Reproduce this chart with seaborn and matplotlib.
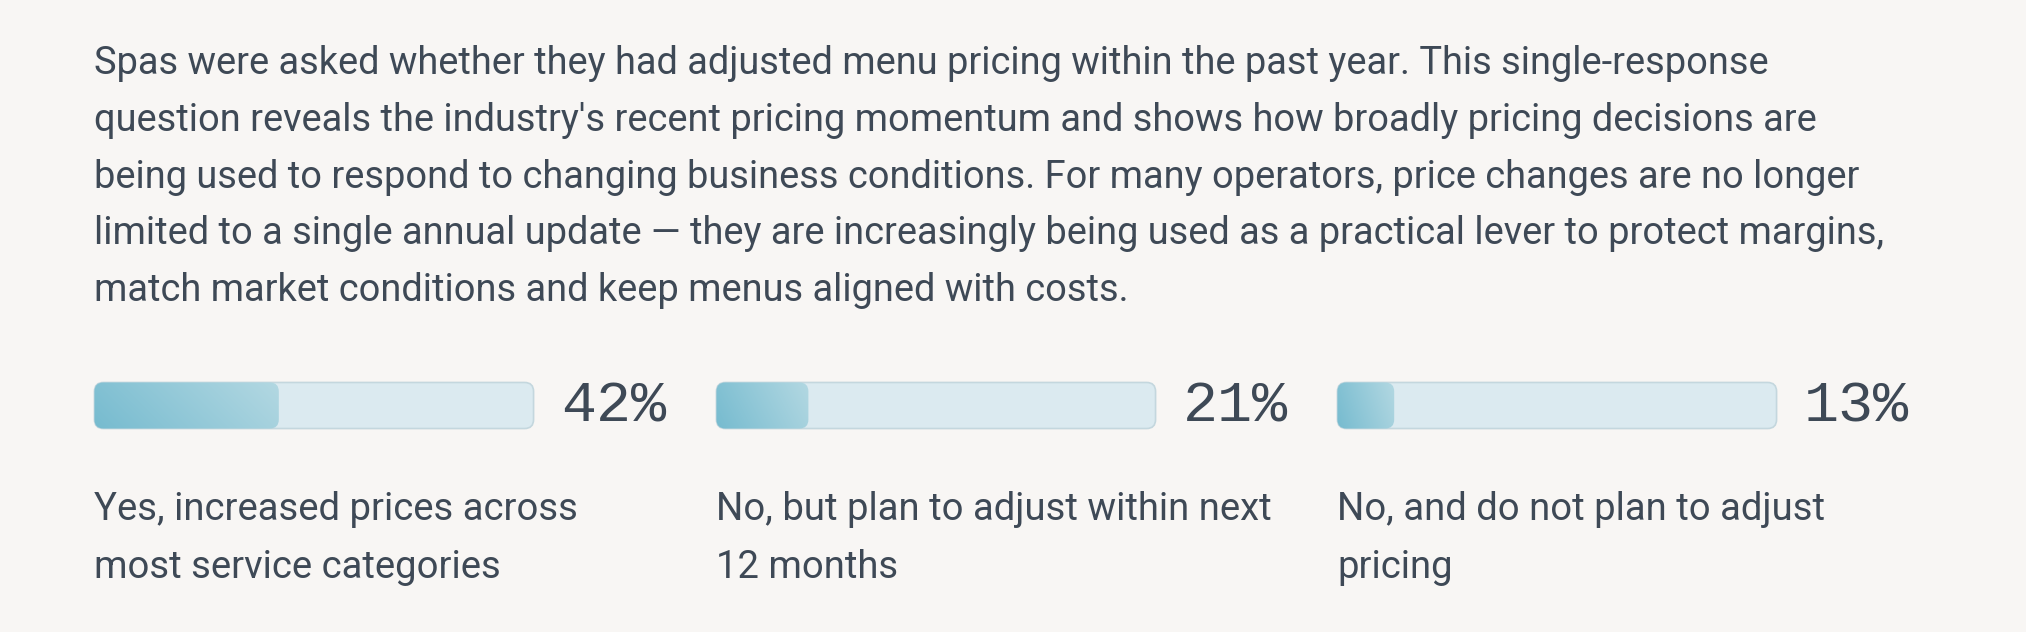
import numpy as np
import pandas as pd
import seaborn as sns
import matplotlib.pyplot as plt
from matplotlib.patches import FancyBboxPatch

# testo introduttivo, una riga per elemento
intro_lines = [
    "Spas were asked whether they had adjusted menu pricing within the past year. This single-response",
    "question reveals the industry's recent pricing momentum and shows how broadly pricing decisions are",
    "being used to respond to changing business conditions. For many operators, price changes are no longer",
    "limited to a single annual update \u2014 they are increasingly being used as a practical lever to protect margins,",
    "match market conditions and keep menus aligned with costs.",
]
answers = [
    "Yes, increased prices across\nmost service categories",
    "No, but plan to adjust within next\n12 months",
    "No, and do not plan to adjust\npricing",
]
shares = [42, 21, 13]

BG = "#f8f6f4"
INK = "#3e4956"
TRACK = "#dbeaf0"
EDGE = "#c4d7de"

sns.set_theme(style="white")
plt.rcParams["font.family"] = ["Roboto", "DejaVu Sans"]

W, H = 2026, 632
fig = plt.figure(figsize=(W / 100, H / 100), dpi=100, facecolor=BG)


def fx(px):
    return px / W


def fy(py):
    return 1 - py / H


for i, line in enumerate(intro_lines):
    fig.text(fx(94), fy(74 + i * 56.8), line, fontsize=27.4, color=INK, va="baseline", ha="left")

bar_left = [94, 716, 1337]
bar_w = 440
bar_top, bar_bot = 382, 429
px_per_x = bar_w / 100
px_per_y = bar_bot - bar_top
radius = 9

# gradiente per la parte piena
gx, gy = np.meshgrid(np.linspace(0, 1, 256), np.linspace(0, 1, 32))
gmix = np.clip(0.8 * gx + 0.2 * (1 - gy), 0, 1)
c0 = np.array([0x76, 0xbb, 0xcf]) / 255
c1 = np.array([0xb3, 0xd8, 0xe2]) / 255
grad_img = c0[None, None, :] * (1 - gmix[..., None]) + c1[None, None, :] * gmix[..., None]

for ans, val, left in zip(answers, shares, bar_left):
    ax = fig.add_axes([fx(left), fy(bar_bot), fx(bar_w), bar_bot / H - bar_top / H])
    df = pd.DataFrame({"answer": [ans], "track": [100], "share": [val]})
    sns.barplot(data=df, x="track", y="answer", orient="h", width=1, color=TRACK, ax=ax)
    sns.barplot(data=df, x="share", y="answer", orient="h", width=1, color=c0, ax=ax)
    ax.set_xlim(0, 100)
    ax.set_ylim(0.5, -0.5)
    ax.axis("off")
    aspect = px_per_x / px_per_y
    rx = radius / px_per_x
    for k, p in enumerate(list(ax.patches)):
        x0, y0, w, h = p.get_x(), p.get_y(), p.get_width(), p.get_height()
        p.set_visible(False)
        if k == 0:
            rp = FancyBboxPatch((x0 + 0.1, y0 + 0.01), w - 0.2, h - 0.02,
                                boxstyle=f"round,pad=0,rounding_size={rx}",
                                mutation_aspect=aspect, facecolor=TRACK,
                                edgecolor=EDGE, linewidth=1.2, clip_on=False, zorder=2)
            ax.add_patch(rp)
        else:
            rp = FancyBboxPatch((x0 + 0.1, y0 + 0.01), w - 0.1, h - 0.02,
                                boxstyle=f"round,pad=0,rounding_size={rx}",
                                mutation_aspect=aspect, facecolor="none",
                                edgecolor="none", clip_on=False, zorder=3)
            ax.add_patch(rp)
            im = ax.imshow(grad_img, extent=[x0, x0 + w, y0 + h, y0], aspect="auto",
                           zorder=3, interpolation="bilinear")
            im.set_clip_path(rp)
    ax.set_xlim(0, 100)
    ax.set_ylim(0.5, -0.5)

    fig.text(fx(left + bar_w + 27), fy(421), f"{val}%", fontsize=42, color=INK,
             family=["Liberation Mono", "DejaVu Sans Mono"], va="baseline", ha="left")
    l1, l2 = ans.split("\n")
    fig.text(fx(left), fy(520), l1, fontsize=27.5, color=INK, va="baseline", ha="left")
    fig.text(fx(left), fy(578), l2, fontsize=27.5, color=INK, va="baseline", ha="left")

fig.savefig("out.png", dpi=100, facecolor=BG)
